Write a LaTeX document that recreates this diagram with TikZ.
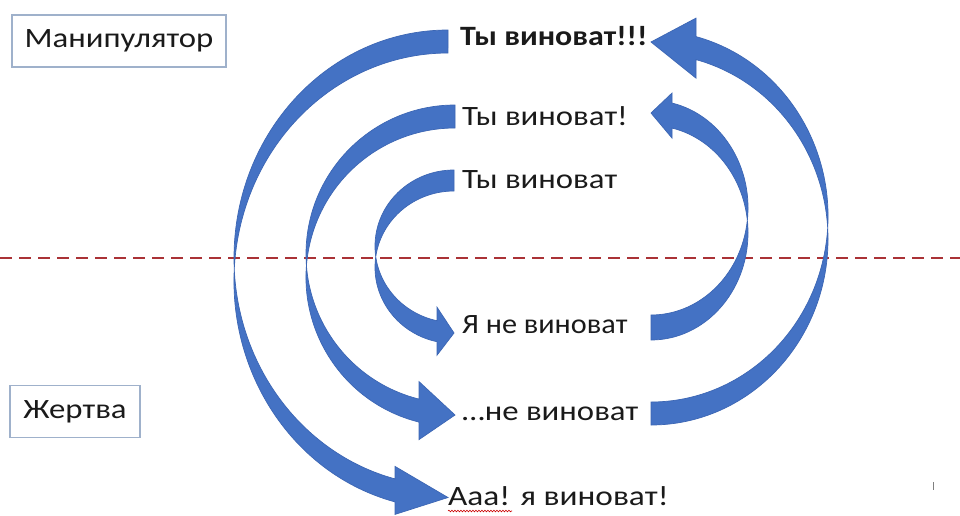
\documentclass[tikz,border=0pt]{standalone}
\usepackage{fontspec}
\usepackage{graphicx}
\setmainfont{Carlito}
\usetikzlibrary{decorations.pathmorphing}
\definecolor{arrowblue}{HTML}{4472C4}
\definecolor{arrowedge}{HTML}{3C66B4}
\definecolor{boxedge}{HTML}{9FB1CB}
\definecolor{dashred}{HTML}{AA3236}
\definecolor{txt}{HTML}{1A1A1A}
\newcommand\widetext[2][1.17]{\scalebox{#1}[1]{#2}}
\tikzset{
  arrowshape/.style={fill=arrowblue, draw=arrowedge, line width=0.7pt, line join=miter},
  rolebox/.style={draw=boxedge, line width=1.2pt, minimum height=52pt, inner sep=0pt, font=\fontsize{28}{30}\selectfont, text=txt},
  phrase/.style={anchor=base west, inner sep=0pt, font=\fontsize{28}{30}\selectfont, text=txt},
}
% curved arrow, flat end at top right, head at bottom pointing right
\newcommand\LArrow[7]{% r T th w hR ah aw
  \pgfmathsetmacro\aA{asin(#6/#4)}
  \pgfmathsetmacro\cA{cos(\aA)}
  \pgfmathsetmacro\xA{#1-#6}
  \pgfmathsetmacro\yFive{#2+#5+#5*\cA}
  \pgfmathsetmacro\ySeven{\yFive+#3}
  \pgfmathsetmacro\dH{(#7-#3)/2}
  \pgfmathsetmacro\yTip{#2+2*#5+#3/2}
  \pgfmathsetmacro\eA{90+\aA}
  \filldraw[arrowshape] (#1,#2) arc[start angle=270, end angle=\eA, x radius=#4, y radius=#5]
    -- (\xA,\yFive-\dH) -- (#1,\yTip) -- (\xA,\ySeven+\dH) -- (\xA,\ySeven)
    arc[start angle=\eA, end angle=270, x radius=#4, y radius=#5] -- cycle;
}
% curved arrow, flat end at bottom left, head at top pointing left
\newcommand\RArrow[7]{% l B th w hR ah aw
  \pgfmathsetmacro\aA{asin(#6/#4)}
  \pgfmathsetmacro\cA{cos(\aA)}
  \pgfmathsetmacro\xA{#1+#6}
  \pgfmathsetmacro\yA{#2-#5-#5*\cA}
  \pgfmathsetmacro\yB{\yA-#3}
  \pgfmathsetmacro\dH{(#7-#3)/2}
  \pgfmathsetmacro\yTip{#2-2*#5-#3/2}
  \pgfmathsetmacro\eA{\aA-90}
  \filldraw[arrowshape] (#1,#2) arc[start angle=90, end angle=\eA, x radius=#4, y radius=#5]
    -- (\xA,\yA+\dH) -- (#1,\yTip) -- (\xA,\yB-\dH) -- (\xA,\yB)
    arc[start angle=\eA, end angle=90, x radius=#4, y radius=#5] -- cycle;
}
\begin{document}
\begin{tikzpicture}[x=1pt,y=-1pt]
\fill[white] (0,0) rectangle (960,515);
\useasboundingbox (0,0) rectangle (960,515);

% dashed divider
\draw[dashred, line width=2.4pt, dash pattern=on 12pt off 7pt] (0,258) -- (960,258);

% arrows
\LArrow{448}{30}{23}{214}{228}{53}{48}
\LArrow{455}{105}{23}{149}{149.25}{36}{58}
\LArrow{454}{170}{21}{79}{76.25}{17}{48}
\RArrow{651}{340}{25}{97}{107.25}{21}{45}
\RArrow{651}{425}{23}{177}{185.75}{45}{60}

% role boxes
\node[rolebox, minimum width=214pt] (manip) at (119,41) {\widetext{Манипулятор}};
\node[rolebox, minimum width=130pt] (victim) at (75,411.5) {\widetext{Жертва}};

% phrases
\node[phrase, font=\fontsize{28}{30}\selectfont\bfseries] (t1) at (460,45) {\widetext[1.14]{Ты виноват!!!}};
\node[phrase] (t2) at (462,125) {\widetext{Ты виноват!}};
\node[phrase] (t3) at (462,188) {\widetext{Ты виноват}};
\node[phrase] (t4) at (462,333) {\widetext[1.08]{Я не виноват}};
\node[phrase] (t5) at (462,420) {\widetext{…не виноват}};
\node[phrase] (t6) at (448,505) {\widetext[1.19]{Ааа! я виноват!}};

% spell-check squiggle and stray mark
\draw[red!80!black, line width=0.6pt, decorate, decoration={snake, amplitude=0.8pt, segment length=3pt}] (448,511) -- (512,511);
\draw[gray, line width=1pt] (933,482) -- (933,490);
\end{tikzpicture}
\end{document}
